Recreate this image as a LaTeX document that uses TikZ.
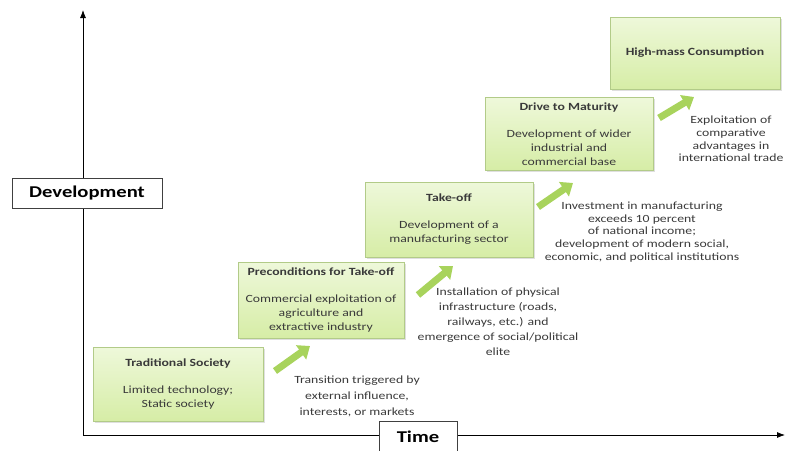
\documentclass[tikz,border=0pt]{standalone}
\usepackage{fontspec}
\setmainfont{Carlito}[FakeStretch=1.25]
\usetikzlibrary{arrows.meta,shadows}
\definecolor{boxtop}{HTML}{EEF8DA}
\definecolor{boxbot}{HTML}{D6EDA6}
\definecolor{boxline}{HTML}{B2CB88}
\definecolor{arrowgreen}{HTML}{A8D35C}
\definecolor{txt}{HTML}{3A3A3A}
\begin{document}
\begin{tikzpicture}[x=1pt,y=-1pt,
  stage/.style={draw=boxline, line width=0.9pt, top color=boxtop, bottom color=boxbot,
    align=center, font=\fontsize{11}{14}\selectfont, text=txt, inner sep=0pt,
    drop shadow={opacity=0.25, shadow xshift=1.5pt, shadow yshift=-1.5pt}},
  note/.style={align=center, font=\fontsize{11}{14}\selectfont, text=txt},
  axislabel/.style={draw=black!75, line width=0.8pt, fill=white, font=\bfseries\fontsize{16.5}{18}\selectfont, inner sep=0pt},
  stagearrow/.style={line width=7pt, draw=arrowgreen, -{Triangle[width=17pt,length=11pt]}},
  axis/.style={line width=0.8pt, -{Latex[length=8pt,width=6pt]}}
]
\useasboundingbox (0,0) rectangle (787,450);
% axes
\coordinate (O) at (83,435);
\coordinate (ytop) at (83,10);
\coordinate (xend) at (785,435);
\draw[axis] (O) -- (ytop);
\draw[axis] (O) -- (xend);
\node[axislabel, minimum width=150pt, minimum height=30pt] (dev) at (87,193) {Development};
\node[axislabel, minimum width=78pt, minimum height=32pt] (time) at (418,437) {Time};

% stages
\node[stage, minimum width=170pt, minimum height=74pt] (trad) at (178,384)
  {\textbf{Traditional Society}\\[13pt]Limited technology;\\Static society};
\node[stage, minimum width=166pt, minimum height=76pt] (pre) at (321,300)
  {\textbf{Preconditions for Take-off}\\[13pt]Commercial exploitation of\\agriculture and\\extractive industry};
\node[stage, minimum width=168pt, minimum height=75pt] (take) at (449,219.5)
  {\textbf{Take-off}\\[13pt]Development of a\\manufacturing sector};
\node[stage, minimum width=168pt, minimum height=73pt] (drive) at (569,134)
  {\textbf{Drive to Maturity}\\[13pt]Development of wider\\industrial and\\commercial base};
\node[stage, minimum width=170pt, minimum height=72pt] (high) at (695,53)
  {\textbf{High-mass Consumption}};

% arrows
\coordinate (a1s) at (275,371); \coordinate (a1e) at (310,346);
\coordinate (a2s) at (418,295); \coordinate (a2e) at (453,266);
\coordinate (a3s) at (538,207); \coordinate (a3e) at (573,183);
\coordinate (a4s) at (659,118); \coordinate (a4e) at (694,97);
\draw[stagearrow] (a1s) -- (a1e);
\draw[stagearrow] (a2s) -- (a2e);
\draw[stagearrow] (a3s) -- (a3e);
\draw[stagearrow] (a4s) -- (a4e);

% notes
\node[note, font=\fontsize{11}{16}\selectfont] (n1) at (357,396)
  {Transition triggered by\\external influence,\\interests, or markets};
\node[note, font=\fontsize{11}{15}\selectfont] (n2) at (498,322)
  {Installation of physical\\infrastructure (roads,\\railways, etc.) and\\emergence of social/political\\elite};
\node[note, font=\fontsize{11}{12.8}\selectfont] (n3) at (642,232)
  {Investment in manufacturing\\exceeds 10 percent\\of national income;\\development of modern social,\\economic, and political institutions};
\node[note, font=\fontsize{11}{12.8}\selectfont] (n4) at (731,139)
  {Exploitation of\\comparative\\advantages in\\international trade};
\end{tikzpicture}
\end{document}
